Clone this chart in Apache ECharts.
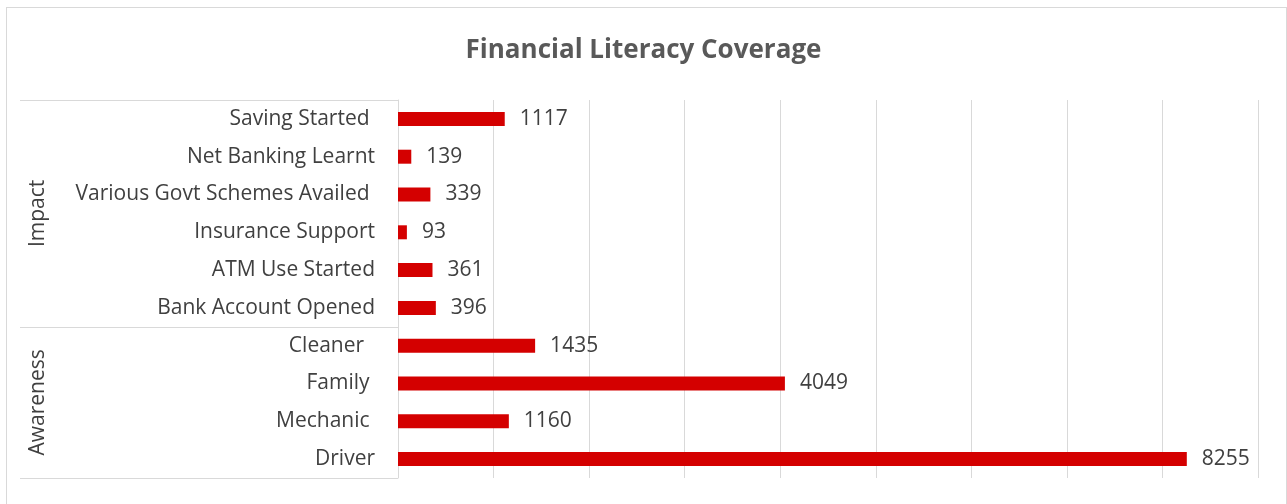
<!DOCTYPE html>
<html>
<head>
<meta charset="utf-8">
<script src="https://cdn.jsdelivr.net/npm/echarts@6/dist/echarts.min.js"></script>
<style>
  html, body { margin: 0; padding: 0; background: #fff; }
  #frame { position: absolute; left: 6px; top: 7px; width: 1279px; height: 510px; border: 1px solid #d9d9d9; }
  #chart { position: absolute; left: 0; top: 0; width: 1287px; height: 504px; }
</style>
</head>
<body>
<div id="frame"></div>
<div id="chart"></div>
<script>
// bottom to top, as drawn on the category axis
var categories = ['Driver', 'Mechanic ', 'Family ', 'Cleaner  ',
    'Bank Account Opened', 'ATM Use Started', 'Insurance Support',
    'Various Govt Schemes Availed ', 'Net Banking Learnt', 'Saving Started '];
var values = [8255, 1160, 4049, 1435, 396, 361, 93, 339, 139, 1117];
var groups = ['Awareness', 'Impact'];
var groupStarts = [0, 4];   // first category index of each group
var groupCenters = [2, 7];  // middle of each group, in rows

var FONT = 'Open Sans';
var myChart = echarts.init(document.getElementById('chart'));

myChart.setOption({
    animation: false,
    title: {
        text: 'Financial Literacy Coverage',
        left: 'center',
        top: 33,
        textStyle: { fontFamily: FONT, fontSize: 26, fontWeight: 'bold', color: '#595959' }
    },
    grid: { left: 398, right: 29, top: 100, bottom: 26 },
    xAxis: {
        type: 'value',
        min: 0,
        max: 9000,
        interval: 1000,
        axisLabel: { show: false },
        axisLine: { show: false },
        axisTick: { show: false },
        splitLine: { show: true, lineStyle: { color: '#d9d9d9', width: 1 } }
    },
    yAxis: [{
        type: 'category',
        data: categories,
        position: 'left',
        axisLine: { show: true, lineStyle: { color: '#d9d9d9', width: 1 } },
        axisTick: {
            show: true,
            length: 378,
            interval: function (index) { return groupStarts.indexOf(index) >= 0; },
            lineStyle: { color: '#d9d9d9', width: 1 }
        },
        axisLabel: { fontFamily: FONT, fontSize: 21, color: '#404040', margin: 23, interval: 0 }
    }, {
        type: 'value',
        position: 'left',
        offset: 342,
        min: 0,
        max: 10,
        interval: 1,
        axisLine: { show: false },
        axisTick: { show: false },
        splitLine: { show: false },
        axisLabel: {
            rotate: 90,
            margin: 7,
            fontFamily: FONT,
            fontSize: 21,
            color: '#404040',
            formatter: function (v) {
                var i = groupCenters.indexOf(v);
                return i >= 0 ? groups[i] : '';
            }
        }
    }],
    series: [{
        type: 'bar',
        data: values,
        barWidth: 14,
        itemStyle: { color: '#d40000' },
        label: {
            show: true,
            position: 'right',
            distance: 15,
            fontFamily: FONT,
            fontSize: 21,
            color: '#404040'
        }
    }]
});
</script>
</body>
</html>
